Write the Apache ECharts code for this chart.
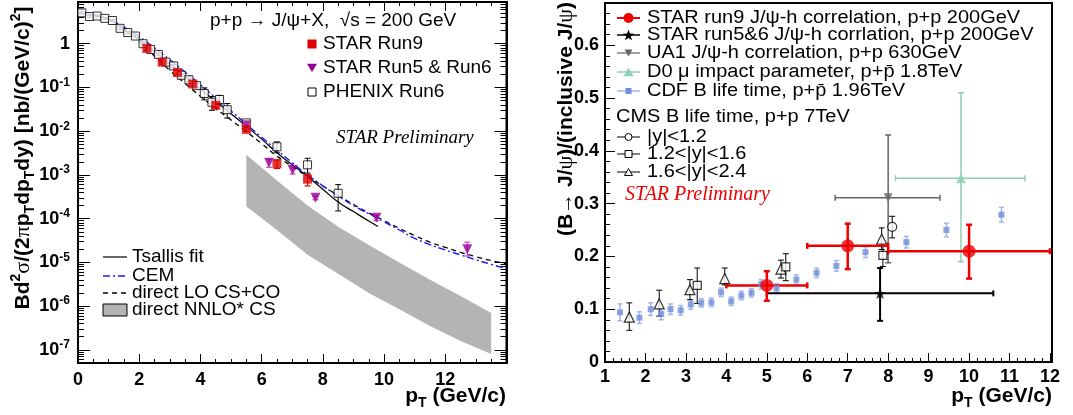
<!DOCTYPE html>
<html>
<head>
<meta charset="utf-8">
<script src="https://cdn.jsdelivr.net/npm/echarts@6/dist/echarts.min.js"></script>
<style>
  html, body { margin: 0; padding: 0; background: #fff; }
  #main { width: 1073px; height: 415px; }
</style>
</head>
<body>
<div id="main"></div>
<script>
// ---------- left panel: J/psi cross section vs pT ----------
const run9PT  = [2.25, 2.75, 3.25, 3.75, 4.5, 5.5, 6.5, 7.5];
const run9Val = [0.78, 0.38, 0.22, 0.12, 0.039, 0.011, 0.0018, 0.0008];
const run9Lo  = [0.70, 0.34, 0.20, 0.108, 0.035, 0.0098, 0.0014, 0.00056];
const run9Hi  = [0.86, 0.42, 0.245, 0.133, 0.043, 0.0122, 0.0022, 0.00102];

const run56PT  = [5.5, 6.24, 7.01, 7.76, 9.75, 12.72];
const run56Val = [0.0135, 0.0019, 0.0013, 0.0003, 0.000105, 0.00002];
const run56Lo  = [0.012, 0.0015, 0.00105, 0.00027, 0.00009, 0.000014];
const run56Hi  = [0.015, 0.0023, 0.0016, 0.00033, 0.00012, 0.000029];

const phenixPT  = [0.125, 0.375, 0.625, 0.875, 1.125, 1.375, 1.625, 1.875, 2.125, 2.375, 2.625, 2.875,
                   3.125, 3.375, 3.625, 3.875, 4.125, 4.375, 4.625, 4.875, 5.5, 6.5, 7.5, 8.5];
const phenixVal = [5.1, 4.2, 4.3, 3.8, 3.4, 2.25, 1.8, 1.5, 1.0, 0.74, 0.57, 0.38,
                   0.31, 0.19, 0.15, 0.11, 0.073, 0.046, 0.053, 0.031, 0.0155, 0.0044, 0.0017, 0.00038];
const phenixLo  = [4.8, 4.0, 4.1, 3.6, 3.2, 2.12, 1.7, 1.41, 0.94, 0.69, 0.53, 0.35,
                   0.285, 0.174, 0.136, 0.098, 0.052, 0.03, 0.04, 0.02, 0.0135, 0.0032, 0.0011, 0.00015];
const phenixHi  = [5.4, 4.4, 4.5, 4.0, 3.6, 2.38, 1.9, 1.59, 1.06, 0.79, 0.61, 0.41,
                   0.335, 0.206, 0.164, 0.122, 0.098, 0.062, 0.066, 0.043, 0.0175, 0.0057, 0.0024, 0.0006];

const tsallisPT  = [0, 0.5, 1, 1.5, 2, 2.5, 3, 3.5, 4, 4.5, 5, 5.5, 6, 6.5, 7, 7.5, 8, 8.5, 9, 9.5, 9.8];
const tsallisVal = [5.0, 4.5, 3.6, 2.15, 1.25, 0.66, 0.34, 0.175, 0.092, 0.048, 0.025, 0.013, 0.0066,
                    0.0032, 0.0017, 0.00092, 0.00047, 0.00024, 0.000145, 0.000088, 0.000066];

const cemPT  = [0, 0.5, 1, 1.5, 2, 2.5, 3, 3.5, 4, 4.5, 5, 5.5, 6, 6.5, 7, 7.5, 8, 8.5, 9, 9.5, 10,
                10.5, 11, 11.5, 12, 12.5, 13, 13.5, 14];
const cemVal = [5.0, 4.6, 3.7, 2.4, 1.45, 0.8, 0.43, 0.225, 0.115, 0.058, 0.029, 0.0145, 0.0073,
                0.0037, 0.0019, 0.001, 0.00056, 0.00033, 0.0002, 0.00013, 0.000085,
                0.000055, 0.0000355, 0.0000255, 0.0000192, 0.0000148, 0.0000115, 0.000009, 0.0000072];

const loPT  = [2, 2.5, 3, 3.5, 4, 4.5, 5, 5.5, 6, 6.5, 7, 7.5, 8, 8.5, 9, 9.5, 10,
               10.5, 11, 11.5, 12, 12.5, 13, 13.5, 14];
const loVal = [1.15, 0.52, 0.245, 0.123, 0.063, 0.033, 0.018, 0.0098, 0.0052, 0.0027, 0.00155, 0.00092,
               0.00056, 0.00034, 0.00021, 0.000135, 0.00009, 0.00006, 0.000041, 0.000029, 0.000022,
               0.000017, 0.0000135, 0.000011, 0.0000093];

const nnloPT = [5.5, 6.5, 7.5, 8.5, 9.5, 10.5, 11.5, 12.5, 13.5];
const nnloLo = [1.9e-4, 5.5e-5, 1.5e-5, 5.5e-6, 2.0e-6, 8.5e-7, 3.5e-7, 1.6e-7, 8.0e-8];
const nnloHi = [2.9e-3, 7.5e-4, 2.0e-4, 6.5e-5, 2.5e-5, 1.0e-5, 4.0e-6, 1.7e-6, 7.0e-7];

const leftYMajor = [1e-7, 1e-6, 1e-5, 1e-4, 1e-3, 1e-2, 1e-1, 1];
const leftYMinor = [];
for (let e = -8; e <= 0; e++) {
  for (let m = 2; m <= 9; m++) {
    const v = m * Math.pow(10, e);
    if (v > 5e-8 && v < 9) leftYMinor.push(v);
  }
}

// ---------- right panel: B -> J/psi fraction ----------
const cdfPT  = [1.37, 1.85, 2.13, 2.39, 2.62, 2.87, 3.12, 3.38, 3.63, 3.87, 4.12, 4.37, 4.62, 4.86,
                5.24, 5.73, 6.23, 6.72, 7.44, 8.45, 9.44, 10.8];
const cdfVal = [0.094, 0.084, 0.1, 0.091, 0.1, 0.098, 0.109, 0.112, 0.113, 0.132, 0.115, 0.126, 0.131,
                0.147, 0.14, 0.156, 0.169, 0.182, 0.208, 0.227, 0.25, 0.279];
const cdfErr = [0.016, 0.011, 0.012, 0.011, 0.01, 0.009, 0.009, 0.008, 0.008, 0.008, 0.008, 0.008,
                0.008, 0.009, 0.008, 0.009, 0.009, 0.01, 0.01, 0.011, 0.013, 0.014];

const cmsCirPT = [8.1],  cmsCirVal = [0.256], cmsCirLo = [0.235], cmsCirHi = [0.276];
const cmsSqPT  = [3.28, 5.47, 7.87];
const cmsSqVal = [0.145, 0.18, 0.202];
const cmsSqLo  = [0.111, 0.154, 0.181];
const cmsSqHi  = [0.178, 0.205, 0.219];
const cmsTriPT  = [1.6, 2.34, 3.1, 3.96, 5.35, 7.84];
const cmsTriVal = [0.085, 0.11, 0.137, 0.158, 0.176, 0.233];
const cmsTriLo  = [0.06, 0.087, 0.118, 0.146, 0.159, 0.213];
const cmsTriHi  = [0.112, 0.136, 0.156, 0.178, 0.193, 0.254];

const starPT  = [5, 7, 10];
const starVal = [0.145, 0.22, 0.21];
const starXLo = [4, 6, 8];
const starXHi = [6, 8, 12];
const starLo  = [0.116, 0.176, 0.158];
const starHi  = [0.172, 0.262, 0.26];

const star56PT = [7.8], star56Val = [0.13], star56XLo = [5], star56XHi = [10.6], star56Lo = [0.078], star56Hi = [0.178];
const ua1PT = [8.0], ua1Val = [0.311], ua1XLo = [6.69], ua1XHi = [9.28], ua1Lo = [0.188], ua1Hi = [0.43];
const d0PT = [9.8], d0Val = [0.348], d0XLo = [8.18], d0XHi = [11.38], d0Lo = [0.19], d0Hi = [0.51];

const FONT = "'Liberation Sans', Arial, Helvetica, sans-serif";
const SERIF = "'Liberation Serif', 'Times New Roman', serif";
const STAR_PATH = 'path://M0,-10L2.35,-3.24L9.51,-3.09L3.8,1.24L5.88,8.09L0,4L-5.88,8.09L-3.8,1.24L-9.51,-3.09L-2.35,-3.24Z';

// error bars drawn through the axes
function errBars(xi, yi, xs, ys, lo, hi, xlo, xhi, o) {
  const data = xs.map((x, i) => [x, ys[i], lo ? lo[i] : ys[i], hi ? hi[i] : ys[i],
                                 xlo ? xlo[i] : x, xhi ? xhi[i] : x]);
  return {
    type: 'custom', xAxisIndex: xi, yAxisIndex: yi, data: data, z: 3, silent: true,
    encode: { x: 0, y: 1 },
    renderItem: function (params, api) {
      const x = api.value(0), y = api.value(1);
      const c = api.coord([x, y]);
      const pl = api.coord([x, api.value(2)]), ph = api.coord([x, api.value(3)]);
      const xl = api.coord([api.value(4), y]), xh = api.coord([api.value(5), y]);
      const st = { stroke: o.color, lineWidth: o.width || 1 };
      const cap = o.cap || 0;
      const ch = [];
      if (pl[1] - ph[1] > 0.5) {
        ch.push({ type: 'line', shape: { x1: c[0], y1: ph[1], x2: c[0], y2: pl[1] }, style: st });
        if (cap) {
          ch.push({ type: 'line', shape: { x1: c[0] - cap, y1: ph[1], x2: c[0] + cap, y2: ph[1] }, style: st });
          ch.push({ type: 'line', shape: { x1: c[0] - cap, y1: pl[1], x2: c[0] + cap, y2: pl[1] }, style: st });
        }
      }
      if (xh[0] - xl[0] > 0.5) {
        ch.push({ type: 'line', shape: { x1: xl[0], y1: c[1], x2: xh[0], y2: c[1] }, style: st });
        if (cap) {
          ch.push({ type: 'line', shape: { x1: xl[0], y1: c[1] - cap, x2: xl[0], y2: c[1] + cap }, style: st });
          ch.push({ type: 'line', shape: { x1: xh[0], y1: c[1] - cap, x2: xh[0], y2: c[1] + cap }, style: st });
        }
      }
      return { type: 'group', children: ch };
    }
  };
}

function pts(xs, ys) { return xs.map((x, i) => [x, ys[i]]); }

const tickFont = { fontFamily: FONT, fontWeight: 'bold', fontSize: 18, color: '#000' };

function logLabel(v) {
  const e = Math.round(Math.log10(v));
  if (e === 0) return '{b|1}';
  return '{b|10}{s|' + e + '}';
}
const logRich = {
  b: { fontFamily: FONT, fontWeight: 'bold', fontSize: 18, lineHeight: 22, color: '#000' },
  s: { fontFamily: FONT, fontWeight: 'bold', fontSize: 12, lineHeight: 12, verticalAlign: 'top', color: '#000' }
};

const axisLineStyle = { show: true, lineStyle: { color: '#000', width: 2 } };

const option = {
  animation: false,
  backgroundColor: '#fff',
  grid: [
    { left: 78, top: 2, width: 428.5, height: 361, show: true, borderColor: '#000', borderWidth: 2, backgroundColor: 'transparent' },
    { left: 605, top: 3, width: 447, height: 359, show: true, borderColor: '#000', borderWidth: 2, backgroundColor: 'transparent' }
  ],
  xAxis: [
    { gridIndex: 0, type: 'value', min: 0, max: 14, interval: 2, position: 'bottom',
      axisLine: axisLineStyle, splitLine: { show: false },
      axisTick: { inside: true, length: 9, lineStyle: { color: '#000' } },
      minorTick: { show: true, splitNumber: 4, length: 4, lineStyle: { color: '#000' } },
      axisLabel: Object.assign({ margin: 8, showMaxLabel: false }, tickFont) },
    { gridIndex: 0, type: 'value', min: 0, max: 14, interval: 2, position: 'top',
      axisLine: axisLineStyle, splitLine: { show: false },
      axisTick: { inside: true, length: 9, lineStyle: { color: '#000' } },
      minorTick: { show: true, splitNumber: 4, length: 4, lineStyle: { color: '#000' } },
      axisLabel: { show: false } },
    { gridIndex: 1, type: 'value', min: 1, max: 12.05, interval: 1, position: 'bottom',
      axisLine: axisLineStyle, splitLine: { show: false },
      axisTick: { inside: true, length: 9, lineStyle: { color: '#000' } },
      minorTick: { show: true, splitNumber: 5, length: 4, lineStyle: { color: '#000' } },
      axisLabel: Object.assign({ margin: 6 }, tickFont) }
  ],
  yAxis: [
    { gridIndex: 0, type: 'log', min: 5e-8, max: 9, position: 'left',
      axisLine: axisLineStyle, splitLine: { show: false },
      axisTick: { inside: true, length: 12, customValues: leftYMajor, lineStyle: { color: '#000' } },
      axisLabel: { customValues: leftYMajor, formatter: logLabel, rich: logRich, margin: 8 } },
    { gridIndex: 0, type: 'log', min: 5e-8, max: 9, position: 'left', offset: 0,
      axisLine: { show: false }, splitLine: { show: false },
      axisTick: { inside: true, length: 6, customValues: leftYMinor, lineStyle: { color: '#000' } },
      axisLabel: { show: false } },
    { gridIndex: 0, type: 'log', min: 5e-8, max: 9, position: 'right', offset: 0,
      axisLine: axisLineStyle, splitLine: { show: false },
      axisTick: { inside: true, length: 12, customValues: leftYMajor, lineStyle: { color: '#000' } },
      axisLabel: { show: false } },
    { gridIndex: 0, type: 'log', min: 5e-8, max: 9, position: 'right', offset: 0,
      axisLine: { show: false }, splitLine: { show: false },
      axisTick: { inside: true, length: 6, customValues: leftYMinor, lineStyle: { color: '#000' } },
      axisLabel: { show: false } },
    { gridIndex: 1, type: 'value', min: 0, max: 0.68, interval: 0.1, position: 'left',
      axisLine: axisLineStyle, splitLine: { show: false },
      axisTick: { inside: true, length: 10, lineStyle: { color: '#000' } },
      minorTick: { show: true, splitNumber: 5, length: 5, lineStyle: { color: '#000' } },
      axisLabel: Object.assign({ margin: 6, showMaxLabel: false,
        formatter: function (v) { return v === 0 ? '0' : v.toFixed(1); } }, tickFont) }
  ],
  series: [
    // NNLO* CS band
    { type: 'custom', xAxisIndex: 0, yAxisIndex: 0, z: 1, silent: true,
      data: nnloPT.map((x, i) => [x, nnloLo[i], nnloHi[i]]),
      encode: { x: 0, y: 1 },
      renderItem: function (params, api) {
        if (params.dataIndex !== 0) return null;
        const up = nnloPT.map((x, i) => api.coord([x, nnloHi[i]]));
        const dn = nnloPT.map((x, i) => api.coord([x, nnloLo[i]])).reverse();
        return { type: 'polygon', shape: { points: up.concat(dn) }, style: { fill: '#b4b4b4' } };
      } },
    { type: 'line', xAxisIndex: 0, yAxisIndex: 0, data: pts(tsallisPT, tsallisVal), smooth: true,
      showSymbol: false, z: 2, silent: true, lineStyle: { color: '#000', width: 1.2 } },
    { type: 'line', xAxisIndex: 0, yAxisIndex: 0, data: pts(loPT, loVal), smooth: true,
      showSymbol: false, z: 2, silent: true, lineStyle: { color: '#000', width: 1.3, type: [5, 4] } },
    { type: 'line', xAxisIndex: 0, yAxisIndex: 0, data: pts(cemPT, cemVal), smooth: true,
      showSymbol: false, z: 2, silent: true, lineStyle: { color: '#1a1aff', width: 1.4, type: [7, 3, 2, 3] } },
    errBars(0, 0, phenixPT, phenixVal, phenixLo, phenixHi, null, null, { color: '#000', width: 1, cap: 3 }),
    errBars(0, 0, run9PT, run9Val, run9Lo, run9Hi, null, null, { color: '#dd0000', width: 1.2, cap: 3 }),
    errBars(0, 0, run56PT, run56Val, run56Lo, run56Hi, null, null, { color: '#cc44cc', width: 1.2, cap: 3 }),
    { type: 'scatter', xAxisIndex: 0, yAxisIndex: 0, data: pts(phenixPT, phenixVal), symbol: 'rect',
      symbolSize: 8, z: 4, silent: true, itemStyle: { color: '#fff', borderColor: '#000', borderWidth: 1 } },
    { type: 'scatter', xAxisIndex: 0, yAxisIndex: 0, data: pts(run56PT, run56Val), symbol: 'triangle',
      symbolRotate: 180, symbolSize: 10, z: 4, silent: true, itemStyle: { color: '#990099' } },
    { type: 'scatter', xAxisIndex: 0, yAxisIndex: 0, data: pts(run9PT, run9Val), symbol: 'rect',
      symbolSize: 9, z: 5, silent: true, itemStyle: { color: '#dd0000' } },

    // right panel
    errBars(2, 4, cdfPT, cdfVal, cdfVal.map((v, i) => v - cdfErr[i]), cdfVal.map((v, i) => v + cdfErr[i]),
            null, null, { color: '#a3b6e8', width: 1.5, cap: 2.5 }),
    { type: 'scatter', xAxisIndex: 2, yAxisIndex: 4, data: pts(cdfPT, cdfVal), symbol: 'rect',
      symbolSize: 6, z: 4, silent: true, itemStyle: { color: '#6f8fd8' } },
    errBars(2, 4, ua1PT, ua1Val, ua1Lo, ua1Hi, ua1XLo, ua1XHi, { color: '#666', width: 1.5, cap: 3 }),
    errBars(2, 4, d0PT, d0Val, d0Lo, d0Hi, d0XLo, d0XHi, { color: '#8fcfb3', width: 1.5, cap: 3 }),
    { type: 'scatter', xAxisIndex: 2, yAxisIndex: 4, data: pts(ua1PT, ua1Val), symbol: 'triangle',
      symbolRotate: 180, symbolSize: 9, z: 4, silent: true, itemStyle: { color: '#666' } },
    { type: 'scatter', xAxisIndex: 2, yAxisIndex: 4, data: pts(d0PT, d0Val), symbol: 'triangle',
      symbolSize: 10, z: 4, silent: true, itemStyle: { color: '#8fcfb3' } },
    errBars(2, 4, cmsTriPT, cmsTriVal, cmsTriLo, cmsTriHi, null, null, { color: '#000', width: 1, cap: 3 }),
    errBars(2, 4, cmsSqPT, cmsSqVal, cmsSqLo, cmsSqHi, null, null, { color: '#000', width: 1, cap: 3 }),
    errBars(2, 4, cmsCirPT, cmsCirVal, cmsCirLo, cmsCirHi, null, null, { color: '#000', width: 1, cap: 3 }),
    { type: 'scatter', xAxisIndex: 2, yAxisIndex: 4, data: pts(cmsTriPT, cmsTriVal), symbol: 'triangle',
      symbolSize: 10, z: 4, silent: true, itemStyle: { color: '#fff', borderColor: '#000', borderWidth: 1.2 } },
    { type: 'scatter', xAxisIndex: 2, yAxisIndex: 4, data: pts(cmsSqPT, cmsSqVal), symbol: 'rect',
      symbolSize: 8, z: 4, silent: true, itemStyle: { color: '#fff', borderColor: '#000', borderWidth: 1.2 } },
    { type: 'scatter', xAxisIndex: 2, yAxisIndex: 4, data: pts(cmsCirPT, cmsCirVal), symbol: 'circle',
      symbolSize: 9, z: 4, silent: true, itemStyle: { color: '#fff', borderColor: '#000', borderWidth: 1.2 } },
    errBars(2, 4, star56PT, star56Val, star56Lo, star56Hi, star56XLo, star56XHi, { color: '#000', width: 2, cap: 3 }),
    { type: 'scatter', xAxisIndex: 2, yAxisIndex: 4, data: pts(star56PT, star56Val), symbol: STAR_PATH,
      symbolKeepAspect: true, symbolSize: 12, z: 5, silent: true, itemStyle: { color: '#000' } },
    errBars(2, 4, starPT, starVal, starLo, starHi, starXLo, starXHi, { color: '#ee0000', width: 2.5, cap: 3 }),
    { type: 'scatter', xAxisIndex: 2, yAxisIndex: 4, data: pts(starPT, starVal), symbol: 'circle',
      symbolSize: 13, z: 6, silent: true, itemStyle: { color: '#ee0000' } }
  ],
  graphic: []
};

// ---------- texts and legends ----------
const g = option.graphic;
function txt(x, y, text, o) {
  g.push({ type: 'text', x: x, y: y, rotation: o.rotation || 0, scaleX: o.sx || 1, z: 100, silent: true,
    style: Object.assign({ text: text, fill: '#000', fontFamily: FONT, fontSize: 19,
      textAlign: 'left', textVerticalAlign: 'middle' }, o.style || {}) });
}
function ln(x1, y1, x2, y2, color, width, dash) {
  g.push({ type: 'line', z: 100, silent: true, shape: { x1: x1, y1: y1, x2: x2, y2: y2 },
    style: { stroke: color, lineWidth: width, lineDash: dash || null } });
}
function rect(x, y, w, h, fill, stroke, lw) {
  g.push({ type: 'rect', z: 100, silent: true, shape: { x: x, y: y, width: w, height: h },
    style: { fill: fill, stroke: stroke || null, lineWidth: lw || 0 } });
}
function tri(cx, cy, s, down, fill, stroke) {
  const h = s * 0.87;
  const p = down ? [[cx - s / 2, cy - h / 2], [cx + s / 2, cy - h / 2], [cx, cy + h / 2]]
                 : [[cx - s / 2, cy + h / 2], [cx + s / 2, cy + h / 2], [cx, cy - h / 2]];
  g.push({ type: 'polygon', z: 101, silent: true, shape: { points: p },
    style: { fill: fill, stroke: stroke || null, lineWidth: stroke ? 1 : 0 } });
}
function circ(cx, cy, r, fill, stroke) {
  g.push({ type: 'circle', z: 101, silent: true, shape: { cx: cx, cy: cy, r: r },
    style: { fill: fill, stroke: stroke || null, lineWidth: stroke ? 1 : 0 } });
}
function starShape(cx, cy, r) {
  const p = [];
  for (let k = 0; k < 10; k++) {
    const a = -Math.PI / 2 + k * Math.PI / 5;
    const rr = k % 2 === 0 ? r : r * 0.4;
    p.push([cx + rr * Math.cos(a), cy + rr * Math.sin(a)]);
  }
  g.push({ type: 'polygon', z: 101, silent: true, shape: { points: p }, style: { fill: '#000' } });
}

// axis titles
const subRich = {
  b: { fontFamily: FONT, fontWeight: 'bold', fontSize: 21, lineHeight: 28, color: '#000' },
  g: { fontFamily: SERIF, fontSize: 22, lineHeight: 28, color: '#000' },
  sup: { fontFamily: FONT, fontWeight: 'bold', fontSize: 14, lineHeight: 14, verticalAlign: 'top', color: '#000' },
  sub: { fontFamily: FONT, fontWeight: 'bold', fontSize: 14, lineHeight: 14, verticalAlign: 'bottom', color: '#000' }
};
txt(23, 158, '{b|Bd}{sup|2}{g|σ}{b|/(2}{g|π}{b|p}{sub|T}{b|dp}{sub|T}{b|dy) [nb/(GeV/c)}{sup|2}{b|]}',
  { rotation: Math.PI / 2, style: { textAlign: 'center', rich: subRich } });
txt(566, 119, '{b|(B→ J/}{g|ψ}{b|)/(inclusive J/}{g|ψ}{b|)}',
  { rotation: Math.PI / 2, style: { textAlign: 'center', rich: subRich } });
txt(506, 396, '{b|p}{sub|T}{b| (GeV/c)}', { style: { textAlign: 'right', rich: subRich } });
txt(1052, 396, '{b|p}{sub|T}{b| (GeV/c)}', { style: { textAlign: 'right', rich: subRich } });

// left panel labels
txt(210, 21, 'p+p → J/ψ+X,  √s = 200 GeV', {});
rect(307.5, 39.5, 9, 9, '#dd0000');
txt(323, 44, 'STAR Run9', {});
tri(312, 68, 10, true, '#990099');
txt(323, 68, 'STAR Run5 & Run6', {});
rect(308, 88, 8, 8, '#fff', '#000', 1);
txt(323, 92, 'PHENIX Run6', {});
txt(336, 138, 'STAR Preliminary', { style: { fontFamily: SERIF, fontStyle: 'italic', fontSize: 19 } });

ln(103, 257, 127, 257, '#000', 1.2);
txt(132, 257, 'Tsallis fit', {});
ln(103, 276, 127, 276, '#1a1aff', 1.4, [7, 3, 2, 3]);
txt(132, 276, 'CEM', {});
ln(103, 293, 127, 293, '#000', 1.3, [5, 4]);
txt(132, 293, 'direct LO CS+CO', {});
rect(103, 304, 24, 12, '#b4b4b4', '#000', 1);
txt(132, 310, 'direct NNLO* CS', {});

// right panel legend
const RL = 617, RR = 640, RC = 628.5, RT = 647, RS = { fontSize: 18 }, SX = 1.11;
ln(RL, 18, RR, 18, '#ee0000', 2); circ(RC, 18, 5, '#ee0000');
txt(RT, 18, 'STAR run9 J/ψ-h correlation, p+p 200GeV', { sx: SX, style: RS });
ln(RL, 35, RR, 35, '#000', 1.5); starShape(RC, 35.5, 6);
txt(RT, 35, 'STAR run5&6 J/ψ-h corrlation, p+p 200GeV', { sx: SX, style: RS });
ln(RL, 53, RR, 53, '#666', 1.2); tri(RC, 53, 8, true, '#666');
txt(RT, 53, 'UA1 J/ψ-h correlation, p+p 630GeV', { sx: SX, style: RS });
ln(RL, 72, RR, 72, '#8fcfb3', 1.5); tri(RC, 72, 10, false, '#8fcfb3');
txt(RT, 72, 'D0 μ impact parameter, p+p̄ 1.8TeV', { sx: SX, style: RS });
ln(RL, 91, RR, 91, '#a3b6e8', 1.5); rect(RC - 3, 88, 6, 6, '#6f8fd8');
txt(RT, 91, 'CDF B life time, p+p̄ 1.96TeV', { sx: SX, style: RS });
txt(616, 117, 'CMS B life time, p+p 7TeV', { sx: SX, style: RS });
ln(RL, 137, RR, 137, '#000', 1); circ(RC, 137, 3.5, '#fff', '#000');
txt(RT, 137, '|y|<1.2', { sx: SX, style: RS });
ln(RL, 154, RR, 154, '#000', 1); rect(RC - 3.5, 150.5, 7, 7, '#fff', '#000', 1);
txt(RT, 154, '1.2<|y|<1.6', { sx: SX, style: RS });
ln(RL, 172, RR, 172, '#000', 1); tri(RC, 172, 8, false, '#fff', '#000');
txt(RT, 172, '1.6<|y|<2.4', { sx: SX, style: RS });
txt(625, 195, 'STAR Preliminary', { style: { fontFamily: SERIF, fontStyle: 'italic', fontSize: 20, fill: '#ee0000' } });

const chart = echarts.init(document.getElementById('main'));
chart.setOption(option);
</script>
</body>
</html>
